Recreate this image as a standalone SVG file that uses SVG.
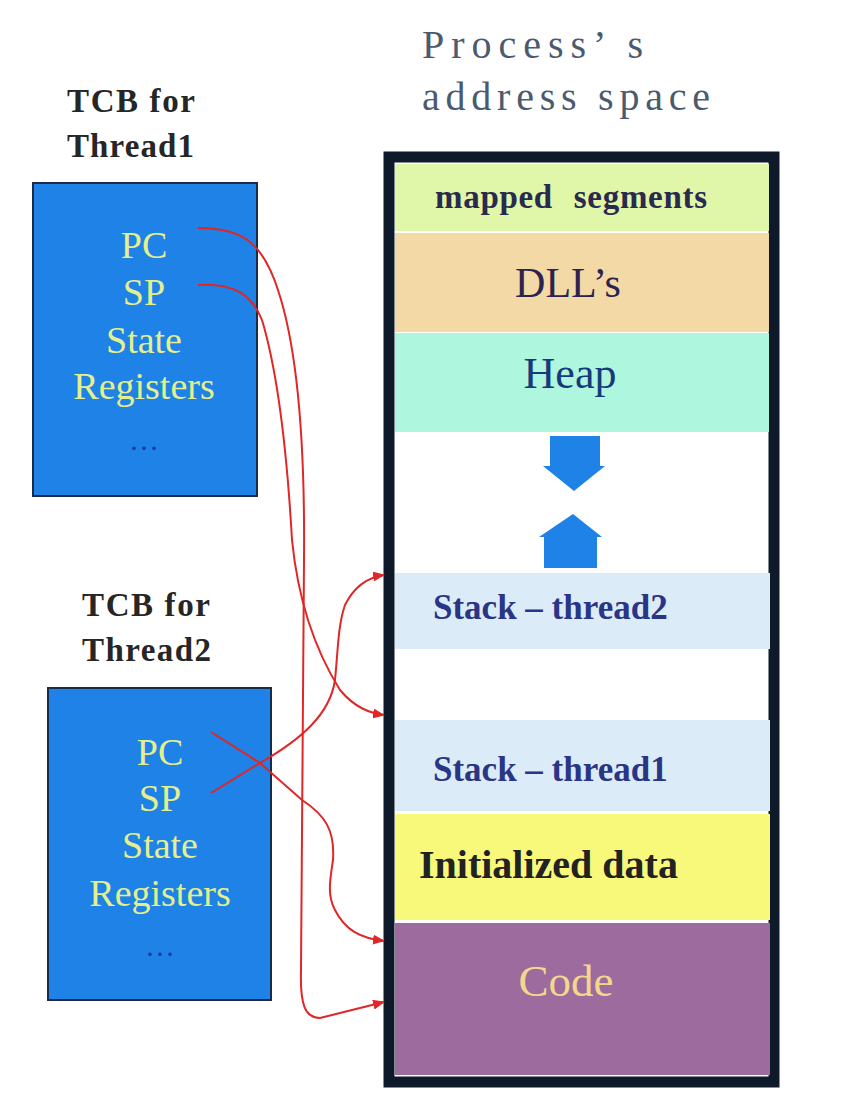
<svg xmlns="http://www.w3.org/2000/svg" width="841" height="1097" viewBox="0 0 841 1097">
<defs>
<marker id="ah" markerWidth="12" markerHeight="10" refX="11" refY="5" orient="auto" markerUnits="userSpaceOnUse">
<path d="M0,0 L12,5 L0,10 z" fill="#e02626"/>
</marker>
<style>
.title{font-family:"Liberation Serif",serif;font-size:40px;fill:#4b5a6e}
.tcbl{font-family:"Liberation Serif",serif;font-size:33px;font-weight:bold;fill:#262626}
.tcb{fill:#1e82e6;stroke:#1a2c4a;stroke-width:2}
.reg{font-family:"Liberation Serif",serif;font-size:38px;fill:#e4f08e;text-anchor:middle}
.dots{font-family:"Liberation Serif",serif;font-size:30px;fill:#1a3aa8;text-anchor:middle}
.seg{font-family:"Liberation Serif",serif}
.conn{fill:none;stroke:#e02626;stroke-width:2;marker-end:url(#ah)}
.garrow{fill:#1e82e6}
</style>
</defs>
<rect width="841" height="1097" fill="#ffffff"/>

<g id="title">
<text class="title" x="422" y="58" textLength="221" lengthAdjust="spacing">Process’ s</text>
<text class="title" x="422" y="110" textLength="288" lengthAdjust="spacing">address space</text>
</g>

<g id="tcb1">
<text class="tcbl" x="67" y="112" textLength="128" lengthAdjust="spacing">TCB for</text>
<text class="tcbl" x="67" y="157" textLength="127" lengthAdjust="spacing">Thread1</text>
<rect class="tcb" x="33" y="183" width="224" height="313"/>
<text class="reg" x="144" y="258">PC</text>
<text class="reg" x="144" y="305">SP</text>
<text class="reg" x="144" y="353">State</text>
<text class="reg" x="144" y="399">Registers</text>
<text class="dots" x="144" y="450">…</text>
</g>

<g id="tcb2">
<text class="tcbl" x="82" y="616" textLength="128" lengthAdjust="spacing">TCB for</text>
<text class="tcbl" x="82" y="661" textLength="129" lengthAdjust="spacing">Thread2</text>
<rect class="tcb" x="48" y="688" width="223" height="312"/>
<text class="reg" x="160" y="765">PC</text>
<text class="reg" x="160" y="811">SP</text>
<text class="reg" x="160" y="858">State</text>
<text class="reg" x="160" y="906">Registers</text>
<text class="dots" x="160" y="956">…</text>
</g>

<g id="address-space">
<rect x="389" y="157" width="385" height="925" fill="#ffffff" stroke="#0e1a2a" stroke-width="11"/>
<g id="mapped-segments">
<rect x="395" y="164" width="374" height="67" fill="#e0f6a8"/>
<text class="seg" x="435" y="208" font-size="33" font-weight="bold" fill="#2a2a4e" word-spacing="12" textLength="272" lengthAdjust="spacing">mapped segments</text>
</g>
<g id="dlls">
<rect x="395" y="233" width="374" height="99" fill="#f3d9a5"/>
<text class="seg" x="568" y="297" font-size="42" fill="#2c2450" text-anchor="middle">DLL’s</text>
</g>
<g id="heap">
<rect x="395" y="333" width="374" height="99" fill="#aef6de"/>
<text class="seg" x="570" y="388" font-size="44" fill="#163a7a" text-anchor="middle">Heap</text>
</g>
<g id="heap-arrow">
<path class="garrow" d="M550,436 H600 V466 H605 L574,491 L543,466 H550 Z"/>
</g>
<g id="stack-arrow">
<path class="garrow" d="M573,514 L602,537 H597 V568 H544 V537 H539 Z"/>
</g>
<g id="stack-thread2">
<rect x="395" y="573" width="375" height="76" fill="#dcebf8"/>
<text class="seg" x="433" y="619" font-size="35" font-weight="bold" fill="#2a3585">Stack – thread2</text>
</g>
<g id="stack-thread1">
<rect x="395" y="720" width="375" height="91" fill="#dcebf8"/>
<text class="seg" x="433" y="781" font-size="35" font-weight="bold" fill="#2a3585">Stack – thread1</text>
</g>
<g id="initialized-data">
<rect x="395" y="814" width="375" height="106" fill="#f8f87a"/>
<text class="seg" x="419" y="878" font-size="40" font-weight="bold" fill="#222222">Initialized data</text>
</g>
<g id="code">
<rect x="395" y="923" width="375" height="152" fill="#9e6b9e"/>
<text class="seg" x="566" y="996" font-size="45" fill="#f2d88c" text-anchor="middle">Code</text>
</g>
</g>

<g id="connectors">
<path class="conn" d="M198,228 C240,228 262,240 278,290 C298,350 305,450 304,560 L301,970 C300,1005 305,1018 320,1018 L384,1002"/>
<path class="conn" d="M198,285 C235,283 252,295 262,320 C280,380 288,470 292,540 C298,600 315,650 340,690 C355,708 370,713 384,715"/>
<path class="conn" d="M211,732 L260,763 L302,800 C325,815 335,830 333,860 C330,880 327,895 335,910 C345,930 360,938 384,941"/>
<path class="conn" d="M211,793 L260,763 C300,740 330,715 335,680 C338,650 338,625 345,605 C355,585 370,577 384,575"/>
</g>
</svg>
